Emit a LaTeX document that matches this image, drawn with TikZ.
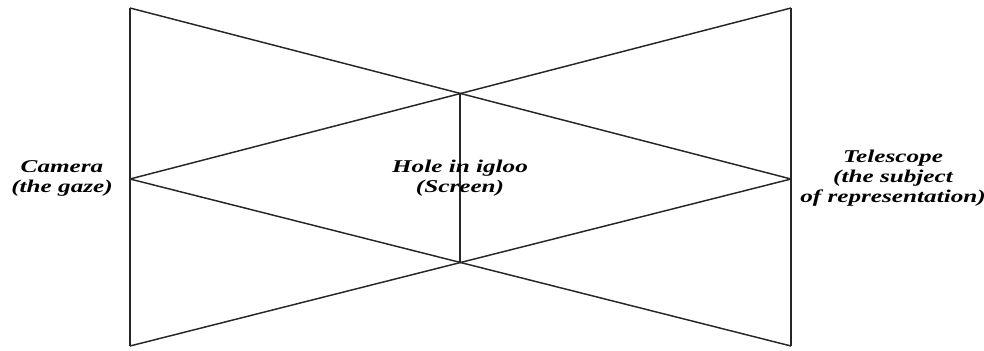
\documentclass[tikz,border=0pt]{standalone}
\usepackage{fontspec}
\setmainfont{Liberation Serif}
\usepackage{graphicx}
\begin{document}
\begin{tikzpicture}[x=0.75pt,y=-0.75pt,
  edge/.style={draw=black!85,line width=1.1pt},
  lbl/.style={align=center,inner sep=0pt,font=\fontsize{13.5}{15}\selectfont\bfseries\itshape}]
\useasboundingbox (0,0) rectangle (984,350);
\coordinate (TL) at (130,8);
\coordinate (BL) at (130,346);
\coordinate (TR) at (791,8);
\coordinate (BR) at (791,346);
\coordinate (LA) at (130,179);
\coordinate (RA) at (791,179);
\coordinate (CT) at (460,93);
\coordinate (CB) at (460,263);
\draw[edge] (TL) -- (BL);
\draw[edge] (TR) -- (BR);
\draw[edge] (CT) -- (CB);
\draw[edge] (TL) -- (RA);
\draw[edge] (TR) -- (LA);
\draw[edge] (BL) -- (RA);
\draw[edge] (BR) -- (LA);
\node[lbl] (cam) at (62,178) {\scalebox{1.4}[1]{\begin{tabular}{@{}c@{}}Camera\\(the gaze)\end{tabular}}};
\node[lbl] (hole) at (460,178) {\scalebox{1.4}[1]{\begin{tabular}{@{}c@{}}Hole in igloo\\(Screen)\end{tabular}}};
\node[lbl] (tel) at (893,178) {\scalebox{1.4}[1]{\begin{tabular}{@{}c@{}}Telescope\\(the subject\\of representation)\end{tabular}}};
\end{tikzpicture}
\end{document}
